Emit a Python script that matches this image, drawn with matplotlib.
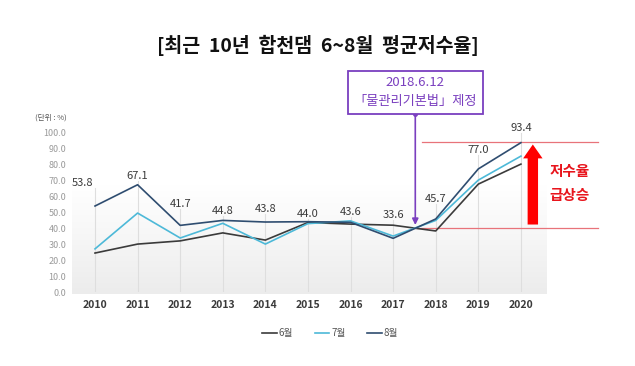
import matplotlib.pyplot as plt
import numpy as np
from matplotlib.colors import LinearSegmentedColormap

plt.rcParams['font.family'] = ['Noto Sans CJK KR', 'DejaVu Sans']

# data
years = [2010, 2011, 2012, 2013, 2014, 2015, 2016, 2017, 2018, 2019, 2020]
jun = [24.4, 30.0, 32.0, 37.0, 32.5, 43.5, 42.5, 41.8, 38.2, 67.5, 80.0]
jul = [27.0, 49.4, 33.8, 43.0, 30.0, 42.8, 44.5, 35.0, 44.8, 70.0, 85.0]
aug = [53.8, 67.1, 41.7, 44.8, 43.8, 44.0, 43.6, 33.6, 45.7, 77.0, 93.4]
aug_labels = ["53.8", "67.1", "41.7", "44.8", "43.8", "44.0", "43.6", "33.6", "45.7", "77.0", "93.4"]
series_names = ["6월", "7월", "8월"]
yticks = [0, 10, 20, 30, 40, 50, 60, 70, 80, 90, 100]
law_year = 2017.52
law_value = 40.2

# label placement in points relative to the 8월 point
label_dy = [13, 3, 12, 3, 6, 2, 4, 13, 11, 10, 7]
label_dx = [-9, 0, 0, 0, 0, 0, 0, 0, 0, 0, 0]

fig = plt.figure(figsize=(6.35, 3.66), dpi=100)
ax = fig.add_axes([0.1134, 0.202, 0.7465, 0.437])
xmin, xmax = 2009.46, 2020.59
ax.set_xlim(xmin, xmax)
ax.set_ylim(0, 100)

# gradient background (grey at the bottom fading to white)
cmap = LinearSegmentedColormap.from_list("bg", ["#ececec", "#f6f6f6", "#ffffff", "#ffffff"])
grad = np.linspace(0, 1, 256).reshape(-1, 1)
ax.imshow(grad, extent=[xmin, xmax, -1.5, 100], origin="lower", aspect="auto",
          cmap=cmap, zorder=0, clip_on=False)

# leader lines up to each label
pt_to_data = (100 / 72) / 1.6
for x, v, dy in zip(years, aug, label_dy):
    ax.plot([x, x], [0, v + dy * pt_to_data], color="#dedede", lw=0.8, zorder=1)

ax.plot(years, jun, color="#3b3b3b", lw=1.2, label=series_names[0], zorder=3)
ax.plot(years, jul, color="#4db9d8", lw=1.2, label=series_names[1], zorder=3)
ax.plot(years, aug, color="#2f4d70", lw=1.2, label=series_names[2], zorder=4)

for x, v, t, dx, dy in zip(years, aug, aug_labels, label_dx, label_dy):
    ax.annotate(t, (x, v), xytext=(dx, dy), textcoords="offset points",
                ha="center", va="bottom", fontsize=8, color="#3a3a3a")

for s in ax.spines.values():
    s.set_visible(False)
ax.set_xticks(years)
ax.set_xticklabels([str(y) for y in years], fontsize=7.5, color="#3a3a3a",
                   fontweight="bold")
ax.set_yticks(yticks)
ax.set_yticklabels([f"{v:.1f}" for v in yticks], fontsize=6.5, color="#9a9a9a")
ax.tick_params(length=0, pad=4)
ax.tick_params(axis="x", pad=6)

# red range lines and arrow
ax.plot([2017.68, 2021.81], [94, 94], color="#e8737a", lw=0.9, clip_on=False, zorder=2)
ax.plot([law_year, 2021.81], [law_value, law_value], color="#e8737a", lw=0.9,
        clip_on=False, zorder=2)
ax.annotate("", xy=(2020.28, 94), xytext=(2020.28, 40.5),
            arrowprops=dict(arrowstyle="simple,head_width=1.4,head_length=1.0,tail_width=0.75",
                            color="#ff0000", lw=0), annotation_clip=False, zorder=5)
ax.text(2021.15, 68, "저수율\n급상승", color="#e8141c", fontsize=10.5, fontweight="bold",
        ha="center", va="center", linespacing=1.6, clip_on=False)

# law annotation
ax.annotate("", xy=(law_year, law_value), xytext=(law_year, 111.5),
            arrowprops=dict(arrowstyle="-|>", color="#7a3fbf", lw=1.2,
                            mutation_scale=9), annotation_clip=False, zorder=6)
ax.plot([law_year], [111.5], marker="o", ms=2.5, color="#7a3fbf", clip_on=False)
fig.text(0.654, 0.748, "2018.6.12\n「물관리기본법」제정", ha="center", va="center",
         fontsize=9.5, color="#7a3fbf", linespacing=1.55,
         bbox=dict(boxstyle="square,pad=0.45", fc="white", ec="#7a3fbf", lw=1.3))

fig.text(0.5, 0.877, "[최근  10년  합천댐  6~8월  평균저수율]", ha="center", va="center",
         fontsize=14, fontweight="bold", color="#111111")
fig.text(0.055, 0.678, "(단위 : %)", fontsize=5.5, color="#555555", va="center")

fig.legend(loc="center", bbox_to_anchor=(0.52, 0.09), ncol=3, frameon=False,
           fontsize=7, handlelength=1.5, handletextpad=0.2, columnspacing=2.2,
           labelcolor="#555555")

fig.savefig("out.png", dpi=100)
